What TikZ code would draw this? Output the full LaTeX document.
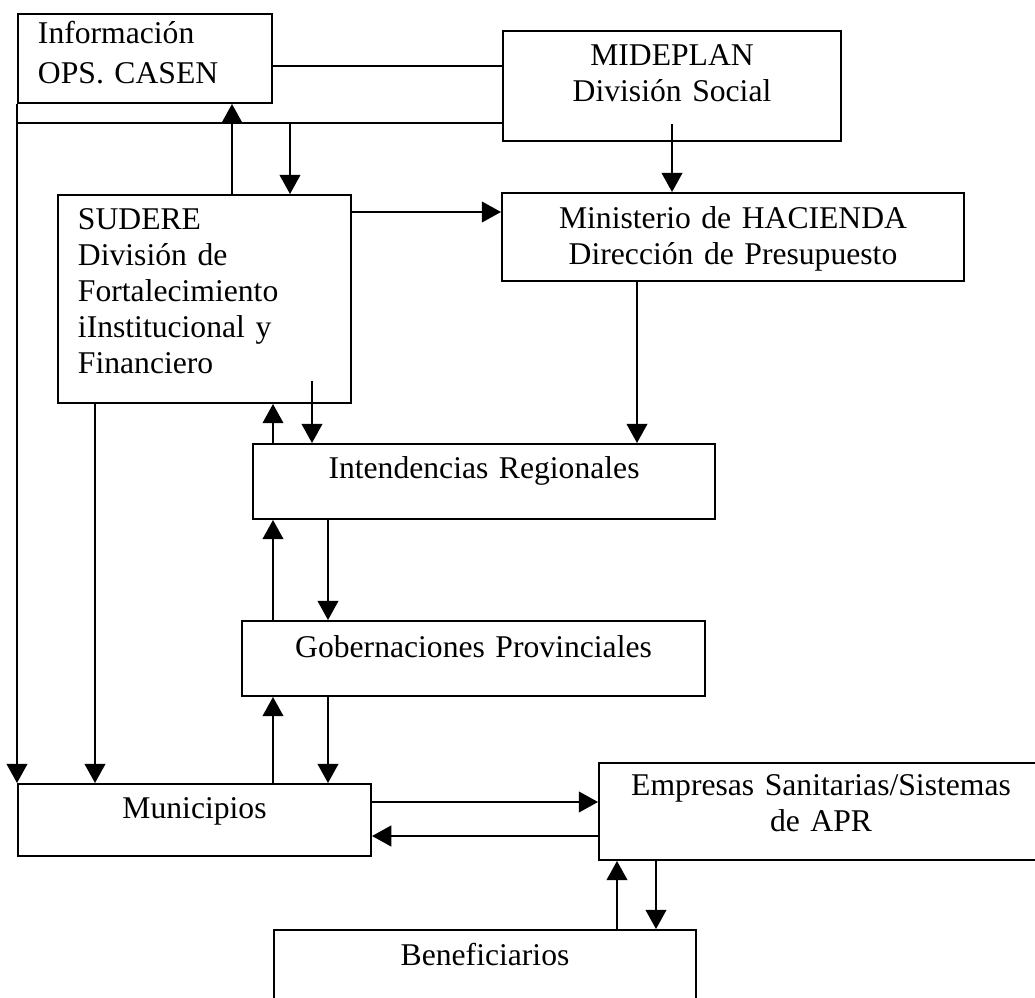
\documentclass[tikz,border=0pt]{standalone}
\usepackage{fontspec}
\setmainfont{Liberation Serif}
\usetikzlibrary{arrows.meta}

\begin{document}
\begin{tikzpicture}[x=0.025cm,y=-0.025cm,
        unit/.style={draw,line width=1.4pt,anchor=north west,inner xsep=0.5cm,inner ysep=0pt,
            font=\fontsize{22.5}{25.6}\selectfont},
        flow/.style={line width=1.2pt,-{Triangle[length=0.48cm,width=0.52cm]}}]
        \useasboundingbox (0,0) rectangle (1035,998);

        \node[unit,align=left,text width=5.35cm,text height=0.75cm,text depth=1.475cm] (info) at (17,13) {Información\\[2.8pt]OPS. CASEN};
        \node[unit,align=center,text width=7.45cm,text height=0.875cm,text depth=1.875cm] (mideplan) at (502,30) {MIDEPLAN\\División Social};
        \node[unit,align=left,text width=6.325cm,text height=0.875cm,text depth=4.325cm] (sudere) at (57,194) {SUDERE\\División de\\Fortalecimiento\\iInstitucional y\\Financiero};
        \node[unit,align=center,text width=10.55cm,text height=0.9cm,text depth=1.3cm] (hacienda) at (501,192) {Ministerio de HACIENDA\\Dirección de Presupuesto};
        \node[unit,align=center,text width=10.55cm,text height=0.875cm,text depth=1.0cm] (intend) at (252,443) {Intendencias Regionales};
        \node[unit,align=center,text width=10.575cm,text height=0.925cm,text depth=0.95cm] (gober) at (241,620) {Gobernaciones Provinciales};
        \node[unit,align=center,text width=7.825cm,text height=0.875cm,text depth=0.925cm] (munic) at (17,783) {Municipios};
        \node[unit,align=center,text width=10.1cm,text height=0.825cm,text depth=1.6cm] (empresas) at (598,762) {Empresas Sanitarias/Sistemas\\de APR};
        \node[unit,align=center,text width=9.55cm,text height=0.9cm,text depth=1.125cm] (benef) at (273,929) {Beneficiarios};

        % upper links
        \draw[line width=1.2pt] (info.east |- 0,66) -- (mideplan.west |- 0,66);
        \draw[line width=1.2pt] (mideplan.west |- 0,123) -- (info.west |- 0,123);
        \draw[flow] (info.south west) -- (munic.north west);
        \draw[flow] (sudere.north -| 232,0) -- (info.south -| 232,0);
        \draw[flow] (290,123) -- (sudere.north -| 290,0);
        \draw[flow] (mideplan.south) ++(0,-18) -- (hacienda.north -| mideplan.south);
        \draw[flow] (sudere.east |- 0,212) -- (hacienda.west |- 0,212);
        \draw[flow] (hacienda.south -| 637,0) -- (intend.north -| 637,0);

        % sudere and the regions
        \draw[flow] (intend.north -| 273,0) -- (sudere.south -| 273,0);
        \draw[flow] (sudere.south -| 312,0) ++(0,-23) -- (intend.north -| 312,0);
        \draw[flow] (sudere.south -| 95,0) -- (munic.north -| 95,0);
        \draw[flow] (gober.north -| 273,0) -- (intend.south -| 273,0);
        \draw[flow] (intend.south -| 328,0) -- (gober.north -| 328,0);
        \draw[flow] (munic.north -| 273,0) -- (gober.south -| 273,0);
        \draw[flow] (gober.south -| 328,0) -- (munic.north -| 328,0);

        % lower links
        \draw[flow] (munic.east |- 0,802) -- (empresas.west |- 0,802);
        \draw[flow] (empresas.west |- 0,836) -- (munic.east |- 0,836);
        \draw[flow] (benef.north -| 617,0) -- (empresas.south -| 617,0);
        \draw[flow] (empresas.south -| 656,0) -- (benef.north -| 656,0);
    \end{tikzpicture}
\end{document}
